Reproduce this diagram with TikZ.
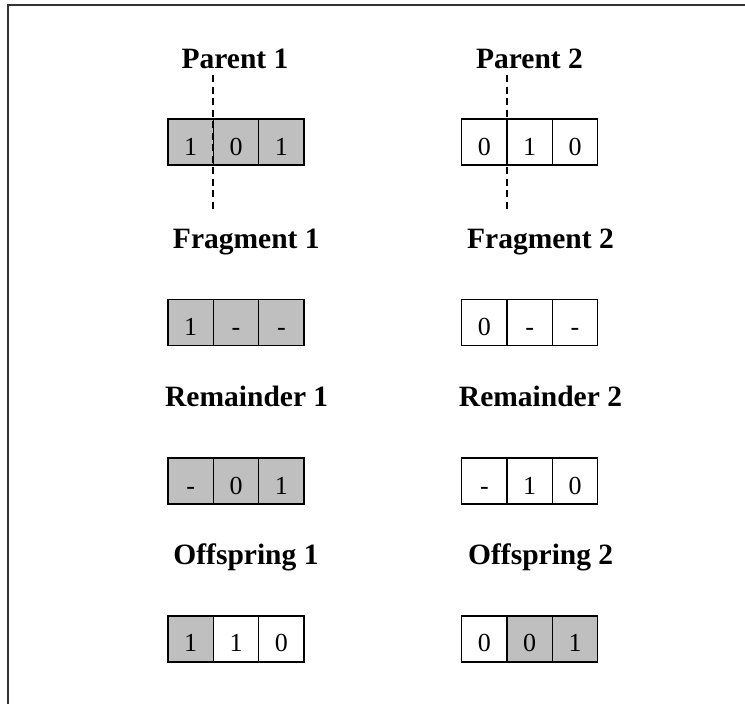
\documentclass[tikz,border=0pt]{standalone}
\usepackage{fontspec}
\setmainfont{Liberation Serif}
\begin{document}
\begin{tikzpicture}[x=1pt,y=-1pt,
  title/.style={anchor=base,inner sep=0pt,font=\bfseries\fontsize{29.5}{32}\selectfont},
  cell/.style={draw=black,line width=1.4pt,minimum width=45.33pt,minimum height=46pt,inner sep=0pt,
     text height=26pt,text depth=0pt,font=\fontsize{26}{29}\selectfont},
  gcell/.style={cell,fill=gray!50},
  wcell/.style={cell,fill=white},
  cut/.style={line width=1.6pt,dash pattern=on 7pt off 4.5pt}]
\useasboundingbox (0,0) rectangle (745,704);
\fill[white] (0,0) rectangle (745,704);
% frame (cropped: only top and left edges visible)
\coordinate (fbl) at (8,704);
\coordinate (ftl) at (8,5);
\coordinate (ftr) at (745,5);
\draw[line width=1.8pt,black!80] (fbl) -- (ftl) -- (ftr);

% titles
\node[title] (t1) at (235,68) {Parent 1};
\node[title] (t2) at (529.5,68) {Parent 2};
\node[title] (f1) at (246.3,248) {Fragment 1};
\node[title] (f2) at (540.5,248) {Fragment 2};
\node[title] (r1) at (246.7,406) {Remainder 1};
\node[title] (r2) at (540.5,406) {Remainder 2};
\node[title] (o1) at (246,564) {Offspring 1};
\node[title] (o2) at (540.7,564) {Offspring 2};

% Parent 1
\node[gcell] (p1a) at (190.67,142) {1};
\node[gcell] (p1b) at (236,142) {0};
\node[gcell] (p1c) at (281.33,142) {1};
% Parent 2
\node[wcell] (p2a) at (484.33,142) {0};
\node[wcell] (p2b) at (529.67,142) {1};
\node[wcell] (p2c) at (575,142) {0};
% Fragment 1
\node[gcell] (g1a) at (190.67,322.6) {1};
\node[gcell] (g1b) at (236,322.6) {-};
\node[gcell] (g1c) at (281.33,322.6) {-};
% Fragment 2
\node[wcell] (g2a) at (484.33,322.6) {0};
\node[wcell] (g2b) at (529.67,322.6) {-};
\node[wcell] (g2c) at (575,322.6) {-};
% Remainder 1
\node[gcell] (m1a) at (190.67,481) {-};
\node[gcell] (m1b) at (236,481) {0};
\node[gcell] (m1c) at (281.33,481) {1};
% Remainder 2
\node[wcell] (m2a) at (484.33,481) {-};
\node[wcell] (m2b) at (529.67,481) {1};
\node[wcell] (m2c) at (575,481) {0};
% Offspring 1
\node[gcell] (s1a) at (190.67,638.8) {1};
\node[wcell] (s1b) at (236,638.8) {1};
\node[wcell] (s1c) at (281.33,638.8) {0};
% Offspring 2
\node[wcell] (s2a) at (484.33,638.8) {0};
\node[gcell] (s2b) at (529.67,638.8) {0};
\node[gcell] (s2c) at (575,638.8) {1};

% crossover cut lines
\coordinate (cut1top) at (213,75);
\coordinate (cut1bot) at (213,210);
\coordinate (cut2top) at (507,75);
\coordinate (cut2bot) at (507,210);
\draw[cut] (cut1top) -- (cut1bot);
\draw[cut] (cut2top) -- (cut2bot);
\end{tikzpicture}
\end{document}
